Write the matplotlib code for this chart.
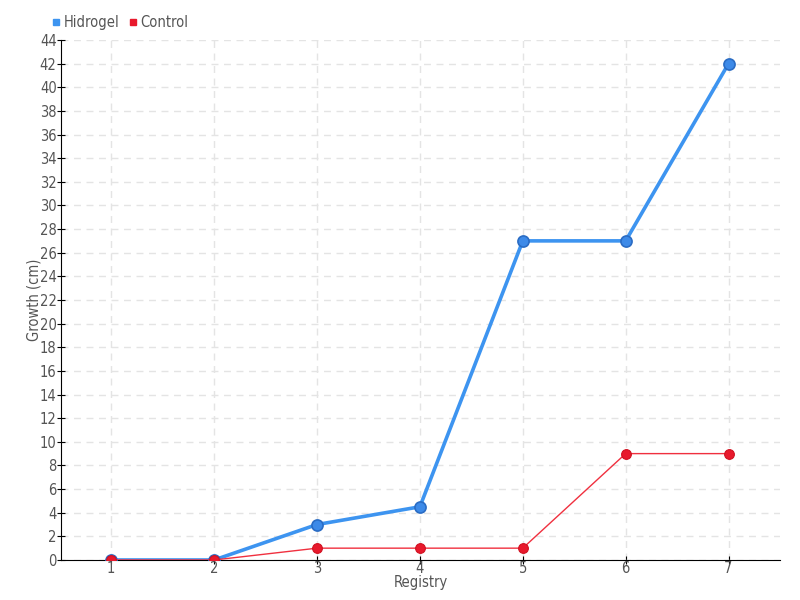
import matplotlib
matplotlib.use("Agg")
import matplotlib.pyplot as plt
from matplotlib.lines import Line2D

plt.rcParams['font.family'] = ['DejaVu Sans']
plt.rcParams['font.stretch'] = 'condensed'

registry = [1, 2, 3, 4, 5, 6, 7]
hidrogel = [0, 0, 3, 4.5, 27, 27, 42]
control = [0, 0, 1, 1, 1, 9, 9]

text_color = "#555555"

fig = plt.figure(figsize=(8, 6), dpi=100)
ax = fig.add_axes([0.076, 0.0667, 0.899, 0.8667])

ax.plot(registry, hidrogel, color="#3d94f0", lw=2.6, marker="o", ms=8,
        mfc="#3d8ae8", mec="#2a6cc4", mew=1.2, zorder=3)
ax.plot(registry, control, color="#f0303f", lw=1, marker="o", ms=7,
        mfc="#e8192c", mec="#d01020", mew=0.8, zorder=4)

ax.set_xlim(0.51, 7.5)
ax.set_ylim(0, 44)
ax.set_yticks(range(0, 45, 2))
ax.set_xticks(registry)

ax.grid(True, linestyle=(0, (5, 4)), color="#e4e4e4", lw=1)
ax.set_axisbelow(True)
for s in ["top", "right"]:
    ax.spines[s].set_visible(False)
ax.spines["left"].set_color("black")
ax.spines["bottom"].set_color("black")
ax.tick_params(direction="inout", length=6, colors=text_color, labelsize=10.5,
               pad=0)
ax.tick_params(axis="x", pad=-2)
ax.tick_params(axis="both", color="black")

ax.set_xlabel("Registry", color=text_color, fontsize=10.5, labelpad=-1)
ax.set_ylabel("Growth (cm)", color=text_color, fontsize=10.5, labelpad=-1)

handles = [
    Line2D([], [], ls="none", marker="s", ms=5, color="#3d94f0"),
    Line2D([], [], ls="none", marker="s", ms=5, color="#e8192c"),
]
fig.legend(handles, ["Hidrogel", "Control"], loc="upper left",
           bbox_to_anchor=(0.045, 0.997), ncol=2, frameon=False,
           handletextpad=0.0, columnspacing=0.4, handlelength=1.0,
           fontsize=10.5, labelcolor=text_color)

fig.savefig("out.png", dpi=100)
